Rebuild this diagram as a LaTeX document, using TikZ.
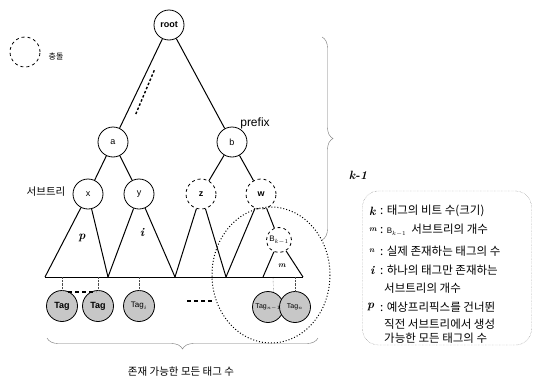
\documentclass[tikz,border=0pt]{standalone}
\usepackage{fontspec}
\setsansfont{Liberation Sans}
\newfontfamily\kr{Noto Sans CJK KR}
\usetikzlibrary{calc, decorations.pathreplacing}
\tikzset{
  vert/.style={
    circle, draw=black, thick, fill=white, minimum size=30pt,
    inner sep=0pt, font=\sffamily\small,
  },
  hit/.style={vert, dashed, font=\sffamily\small\bfseries},
  tag/.style={
    circle, draw=black, thick, fill=black!22, minimum size=31pt,
    inner sep=0pt, font=\sffamily\footnotesize,
  },
  edge/.style={line width=1pt, draw=black},
  leaf/.style={densely dotted, thin, draw=black!70},
  gap/.style={dash pattern=on 4pt off 3pt, line width=1.1pt},
  curly/.style={
    draw=black!55, thin,
    decorate, decoration={brace, amplitude=11pt},
  },
  ktext/.style={font=\kr\fontsize{10.5}{12}\selectfont, inner sep=1pt},
  ltext/.style={font=\kr\fontsize{11.5}{13}\selectfont, inner sep=1pt, anchor=west},
  sym/.style={font=\bfseries\itshape\large, inner sep=1pt},
}

\begin{document}
\begin{tikzpicture}[x=1pt, y=-1pt]
  \useasboundingbox (0,0) rectangle (533,383);

  % collision key
  \node[hit] (key) at (25,52) {};
  \node[ktext, font=\kr\fontsize{8}{10}\selectfont] (keytxt) at (56,56) {충돌};

  % prefix tree
  \node[vert, font=\sffamily\small\bfseries] (root) at (169,25) {root};
  \node[vert] (a) at (113,142) {a};
  \node[vert] (b) at (232,142) {b};
  \node[vert] (x) at (88,194) {x};
  \node[vert] (y) at (139,194) {y};
  \node[hit]  (z) at (201,194) {z};
  \node[hit]  (w) at (261,194) {w};
  \node[hit, minimum size=25pt, font=\sffamily\footnotesize] (bk) at (279,240) {B$_{k-1}$};

  \node[font=\sffamily\large] (prefix) at (255,123) {prefix};
  \node[ktext] (subtree) at (46,192) {서브트리};

  \draw[edge] (root) -- (a);
  \draw[edge] (root) -- (b);
  \draw[edge] (a) -- (x);
  \draw[edge] (a) -- (y);
  \draw[edge] (b) -- (z);
  \draw[edge] (b) -- (w);
  \draw[edge] (w) -- (bk);

  % skipped levels on the left branch
  \coordinate (s1) at ($(root)!0.37!(a)$);
  \coordinate (s2) at ($(root)!0.74!(a)$);
  \draw[dash pattern=on 2.5pt off 2pt, line width=1.4pt] ($(s1)+(6,2)$) -- ($(s2)+(8,3)$);

  % subtree base
  \coordinate (b0) at (45,277);
  \coordinate (b1) at (108,277);
  \coordinate (b2) at (175,277);
  \coordinate (b3) at (226,277);
  \coordinate (b4) at (263,277);
  \coordinate (b5) at (303,277);
  \draw[edge] (b0) -- (b5);

  \draw[edge] (x) -- (b0);
  \draw[edge] (x) -- (b1);
  \draw[edge] (y) -- (b1);
  \draw[edge] (y) -- (b2);
  \draw[edge] (z) -- (b2);
  \draw[edge] (z) -- (b3);
  \draw[edge] (w) -- (b3);
  \draw[edge] (bk) -- (b4);
  \draw[edge] (bk) -- (b5);

  \node[sym] (lp) at (82,238) {p};
  \node[sym] (li) at (142,233) {i};
  \node[sym, font=\bfseries\itshape\footnotesize] (lm) at (282,266) {m};

  % tags
  \node[tag, font=\sffamily\small\bfseries] (tag1) at (62,306) {Tag};
  \node[tag, font=\sffamily\small\bfseries] (tag2) at (98,306) {Tag};
  \node[tag] (tag3) at (139,306) {Tag$_i$};
  \node[tag, font=\sffamily\scriptsize] (tag4) at (268,307) {Tag$_{n-1}$};
  \node[tag, font=\sffamily\scriptsize] (tag5) at (295,307) {Tag$_n$};

  \coordinate (t1) at (62,277);
  \coordinate (t2) at (98,277);
  \coordinate (t3) at (139,277);
  \coordinate (t4) at (273,277);
  \coordinate (t5) at (295,277);
  \draw[leaf] (t1) -- (tag1);
  \draw[leaf] (t2) -- (tag2);
  \draw[leaf] (t3) -- (tag3);
  \draw[leaf] (t4) -- (tag4.70);
  \draw[leaf] (t5) -- (tag5);

  \draw[gap] (68,292) -- (96,292);
  \draw[gap] (187,301) -- (214,301);

  % B_{k-1} region
  \draw[dotted, line width=1pt] (271,275) ellipse [x radius=59, y radius=68];

  % braces
  \coordinate (rt) at (322,37);
  \coordinate (rb) at (322,240);
  \draw[curly] (rt) -- (rb);
  \node[sym, font=\bfseries\itshape\large] (klen) at (358,175) {k-1};

  \coordinate (bl) at (47,338);
  \coordinate (br) at (318,338);
  \draw[curly, decoration={brace, amplitude=11pt, mirror}] (bl) -- (br);
  \node[ktext] (alltags) at (181,372) {존재 가능한 모든 태그 수};

  % notation box
  \node[draw=black!55, densely dotted, thin, rounded corners=16pt,
        minimum width=169pt, minimum height=154pt] (legend) at (447,268) {};

  \node[sym, anchor=west] (nk) at (368,211) {k};
  \node[ltext] at (379,211) {: 태그의 비트 수(크기)};
  \node[sym, anchor=west, font=\bfseries\itshape\footnotesize] (nm) at (368,230) {m};
  \node[ltext] at (379,230) {: {\sffamily\footnotesize B$_{k-1}$}\ \ 서브트리의 개수};
  \node[sym, anchor=west, font=\bfseries\itshape\footnotesize] (nn) at (368,251) {n};
  \node[ltext] at (379,251) {: 실제 존재하는 태그의 수};
  \node[sym, anchor=west] (ni) at (369,270) {i};
  \node[ltext] at (379,270) {: 하나의 태그만 존재하는};
  \node[ltext] at (383,288) {서브트리의 개수};
  \node[sym, anchor=west] (np) at (366,307) {p};
  \node[ltext] at (379,307) {: 예상프리픽스를 건너뛴};
  \node[ltext] at (383,324) {직전 서브트리에서 생성};
  \node[ltext] at (383,338) {가능한 모든 태그의 수};

\end{tikzpicture}
\end{document}
